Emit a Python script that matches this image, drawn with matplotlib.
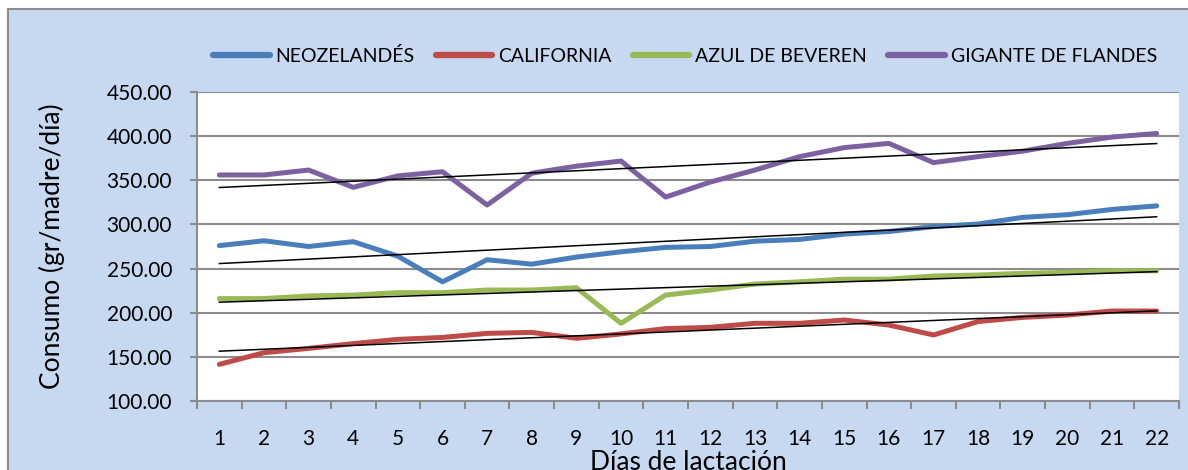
import matplotlib.pyplot as plt
from matplotlib.patches import Rectangle
import numpy as np

#------------------------------------------------------------------------------
dias = list(range(1, 23))
neozelandes = [276, 281.5, 275, 280.5, 264, 235, 260, 255, 263, 269, 274,
               275, 281, 283, 289, 292, 297.5, 300.5, 308, 311, 317, 321]
california = [141.5, 154.7, 159.6, 165, 169.8, 172, 176.6, 177.7, 171, 176, 182,
              183.4, 188, 188, 191.7, 186, 174.8, 190, 194.7, 197.4, 201.9, 201.9]
azul = [216, 216, 219, 220, 222.7, 222.7, 225.7, 225.7, 228.3, 188, 220,
        225.7, 232.5, 235, 238, 238, 241.6, 242.7, 244.6, 245.7, 247.5, 247.5]
gigante = [356, 356, 361.6, 342, 355, 359.7, 322, 358, 366, 371.8, 331,
           348, 361.6, 376.8, 387, 391.8, 370, 376.8, 383, 391.8, 399, 403]
series = [neozelandes, california, azul, gigante]
nombres = ['NEOZELANDÉS', 'CALIFORNIA', 'AZUL DE BEVEREN', 'GIGANTE DE FLANDES']
colores = ['#4A7EBB', '#BE4B48', '#98B954', '#7D60A0']
yticks = [100, 150, 200, 250, 300, 350, 400, 450]
#------------------------------------------------------------------------------

plt.rcParams['font.family'] = ['Lato', 'DejaVu Sans']

fig = plt.figure(figsize=(11.88, 4.70), dpi=100)
fig.patch.set_facecolor('white')
# fondo azul del grafico
fondo = Rectangle((8/1188, -0.05), 1.0, 1 - 9/470 + 0.05,
                  transform=fig.transFigure, facecolor='#C6D9F1',
                  edgecolor='#8C8C8C', linewidth=1.5, zorder=-10)
fig.add_artist(fondo)

ax = fig.add_axes([197/1188, 1 - 401/470, 982/1188, 309/470])
ax.set_facecolor('white')

x = np.array(dias)
for s, n, c in zip(series, nombres, colores):
    ax.plot(x, s, color=c, linewidth=3.6, label=n, solid_capstyle='round', zorder=3)
for s in series:
    m, b = np.polyfit(x, s, 1)
    ax.plot(x, m*x + b, color='black', linewidth=1.1, zorder=4)

#--------------ejes-----------------------------------------------------------
ax.set_xlim(0.5, 22.5)
ax.set_ylim(100, 450)
ax.set_yticks(yticks)
ax.set_yticklabels(['%.2f' % v for v in yticks], fontsize=15)
ax.set_xticks(dias)
ax.set_xticklabels([str(d) for d in dias], fontsize=15)
ax.set_xticks(np.arange(0.5, 23, 1), minor=True)
ax.tick_params(axis='x', which='major', length=0, pad=20)
ax.tick_params(axis='x', which='minor', direction='out', length=6, width=1.5, colors='#8C8C8C')
ax.tick_params(axis='y', direction='out', length=5, width=1.5, colors='#8C8C8C', labelcolor='black', pad=13)
ax.grid(axis='y', color='#8C8C8C', linewidth=1.5, zorder=1)
for sp in ['left', 'bottom']:
    ax.spines[sp].set_color('#8C8C8C')
    ax.spines[sp].set_linewidth(1.5)
ax.spines['top'].set_visible(False)
ax.spines['right'].set_visible(False)

ax.set_ylabel('Consumo (gr/madre/día)', fontsize=19)
ax.yaxis.set_label_coords(-0.134, 0.5)
ax.set_xlabel('Días de lactación', fontsize=19)
ax.xaxis.set_label_coords(0.5, -0.158)

leg = fig.legend(loc='center', bbox_to_anchor=(685/1188, 1 - 56/470), ncol=4,
                 frameon=False, fontsize=14, handlelength=2.9, columnspacing=1.1,
                 handletextpad=0.3)
for h in leg.get_lines():
    h.set_linewidth(4.5)

plt.savefig('out.png', dpi=100)
